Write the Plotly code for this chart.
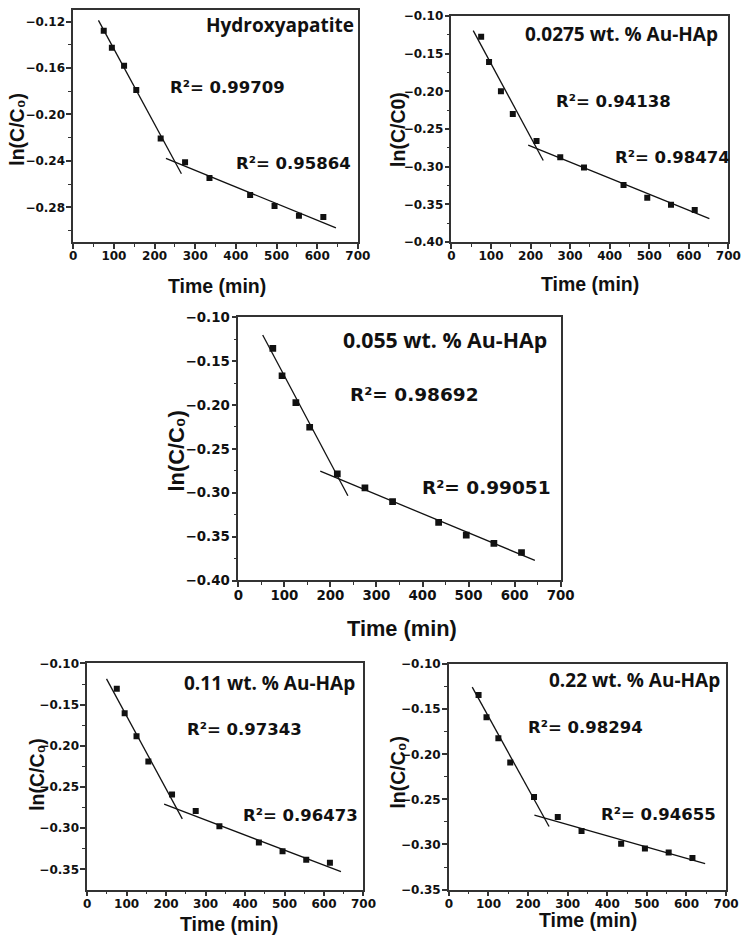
import plotly.graph_objects as go

# ---------------- data ----------------
time_min = [75, 95, 125, 155, 215, 275, 335, 435, 495, 555, 615]

hap = [-0.128, -0.1425, -0.158, -0.179, -0.2207, -0.2412, -0.2547, -0.2693, -0.2789, -0.2873, -0.2882]
au_0275 = [-0.1278, -0.161, -0.200, -0.230, -0.2657, -0.2874, -0.3009, -0.3243, -0.3409, -0.3504, -0.3574]
au_055 = [-0.1355, -0.1666, -0.1972, -0.2253, -0.2784, -0.2945, -0.3102, -0.3337, -0.3483, -0.3577, -0.3681]
au_011 = [-0.1307, -0.1605, -0.1884, -0.219, -0.2592, -0.2791, -0.2978, -0.3173, -0.3281, -0.3384, -0.342]
au_022 = [-0.1342, -0.159, -0.1822, -0.2092, -0.2474, -0.2696, -0.2852, -0.2991, -0.3045, -0.3089, -0.3151]

# fitted line end points (x, y) for the fast and slow stage
fit_fast_x = [[62, 266], [55, 232], [53, 238], [49, 241], [59, 253]]
fit_fast_y = [[-0.119, -0.251], [-0.1196, -0.2917], [-0.1202, -0.3034], [-0.1187, -0.2887], [-0.1255, -0.2801]]
fit_slow_x = [[228, 646], [194, 652], [178, 644], [195, 643], [216, 647]]
fit_slow_y = [[-0.2378, -0.2977], [-0.2713, -0.3687], [-0.2754, -0.3771], [-0.2708, -0.3528], [-0.2674, -0.3213]]

sample_labels = ["Hydroxyapatite", "0.0275 wt. % Au-HAp", "0.055 wt. % Au-HAp",
                 "0.11 wt. % Au-HAp", "0.22 wt. % Au-HAp"]
r2_fast = ["0.99709", "0.94138", "0.98692", "0.97343", "0.98294"]
r2_slow = ["0.95864", "0.98474", "0.99051", "0.96473", "0.94655"]
y_titles = ["ln(C/C\u2080)", "ln(C/C0)", "ln(C/C\u2080)", "ln(C/C\u2080)", "ln(C/C\u2080)"]
x_title = "Time (min)"

series = [hap, au_0275, au_055, au_011, au_022]

# ---------------- layout geometry ----------------
W, H = 756, 950
# plot frames in pixels: (left, right, top, bottom)
frames = [(70, 362, 3, 239), (458, 742, 9, 239), (239.3, 570, 315.3, 582.7),
          (84.3, 367.7, 667, 896.7), (455.3, 739.7, 667.7, 896.7)]
y_ranges = [[-0.31, -0.11], [-0.40, -0.10], [-0.40, -0.10], [-0.3745, -0.10], [-0.35, -0.10]]
y_dticks = [0.04, 0.05, 0.05, 0.05, 0.05]
scale = [1.0, 1.0, 1.12, 1.0, 1.0]

# annotation positions in data coordinates
label_pos = [(695, -0.1227), (680, -0.1235), (675, -0.1255), (683, -0.1239), (689, -0.1176)]
r2f_pos = [(232, -0.1769), (259, -0.2135), (238, -0.1875), (249, -0.1806), (195, -0.1707)]
r2s_pos = [(395, -0.2422), (409, -0.2878), (395, -0.2941), (389, -0.2848), (380, -0.2668)]
# axis-title centres in pixels
xt_pos = [(217, 283), (600, 281), (407, 631), (230, 932), (598, 928)]
yt_pos = [(12, 124), (403, 124), (176, 451), (33, 780), (403, 777)]


def font(family, size, s):
    return dict(family=family, size=round(size * s, 1), color="#111", weight="bold")


fig = go.Figure()
layout = dict(width=W, height=H, margin=dict(l=0, r=0, t=0, b=0),
              paper_bgcolor="white", plot_bgcolor="white", showlegend=False)
annotations = []

for i in range(5):
    n = "" if i == 0 else str(i + 1)
    xa, ya = "x" + n, "y" + n
    l, r, t, b = frames[i]
    s = scale[i]
    axis_common = dict(showline=True, mirror=True, linecolor="#333", linewidth=1.5,
                       ticks="outside", ticklen=5, tickwidth=1.5, tickcolor="#333",
                       showgrid=False, zeroline=False,
                       tickfont=font("DejaVu Sans", 12, s))
    layout["xaxis" + n] = dict(axis_common, domain=[l / W, r / W], anchor=ya,
                               range=[0, 700], dtick=100, tick0=0, ticklabelstandoff=-3,
                               minor=dict(dtick=50, tick0=0, ticks="outside", ticklen=3,
                                          tickwidth=1.2, tickcolor="#333"))
    layout["yaxis" + n] = dict(axis_common, domain=[1 - b / H, 1 - t / H], anchor=xa,
                               range=y_ranges[i], dtick=y_dticks[i], tick0=0,
                               tickformat=".2f", ticklabelstandoff=-1,
                               minor=dict(dtick=y_dticks[i] / 2, tick0=0, ticks="outside",
                                          ticklen=3, tickwidth=1.2, tickcolor="#333"))

    fig.add_trace(go.Scatter(x=fit_fast_x[i], y=fit_fast_y[i], mode="lines",
                             line=dict(color="#111", width=1.3), xaxis=xa, yaxis=ya))
    fig.add_trace(go.Scatter(x=fit_slow_x[i], y=fit_slow_y[i], mode="lines",
                             line=dict(color="#111", width=1.3), xaxis=xa, yaxis=ya))
    fig.add_trace(go.Scatter(x=time_min, y=series[i], mode="markers",
                             marker=dict(symbol="square", size=6 * s, color="#111"),
                             xaxis=xa, yaxis=ya))

    annotations.append(dict(x=label_pos[i][0], y=label_pos[i][1], xref=xa, yref=ya,
                            text=sample_labels[i], showarrow=False, xanchor="right",
                            yanchor="middle", font=font("Open Sans", 19, s)))
    annotations.append(dict(x=r2f_pos[i][0], y=r2f_pos[i][1], xref=xa, yref=ya,
                            text="R\u00b2= " + r2_fast[i], showarrow=False,
                            xanchor="left", yanchor="middle", font=font("DejaVu Sans", 16.5, s)))
    annotations.append(dict(x=r2s_pos[i][0], y=r2s_pos[i][1], xref=xa, yref=ya,
                            text="R\u00b2= " + r2_slow[i], showarrow=False,
                            xanchor="left", yanchor="middle", font=font("DejaVu Sans", 16.5, s)))
    annotations.append(dict(x=xt_pos[i][0] / W, y=1 - xt_pos[i][1] / H, xref="paper",
                            yref="paper", text=x_title, showarrow=False,
                            xanchor="center", yanchor="middle",
                            font=font("Liberation Sans", 19.5, s)))
    annotations.append(dict(x=yt_pos[i][0] / W, y=1 - yt_pos[i][1] / H, xref="paper",
                            yref="paper", text=y_titles[i], showarrow=False, textangle=-90,
                            xanchor="center", yanchor="middle",
                            font=font("Liberation Sans", 19.5, s)))

layout["annotations"] = annotations
fig.update_layout(**layout)
fig.write_html("out.html", config={"displayModeBar": False},
               post_script="document.body.style.margin='0';")
